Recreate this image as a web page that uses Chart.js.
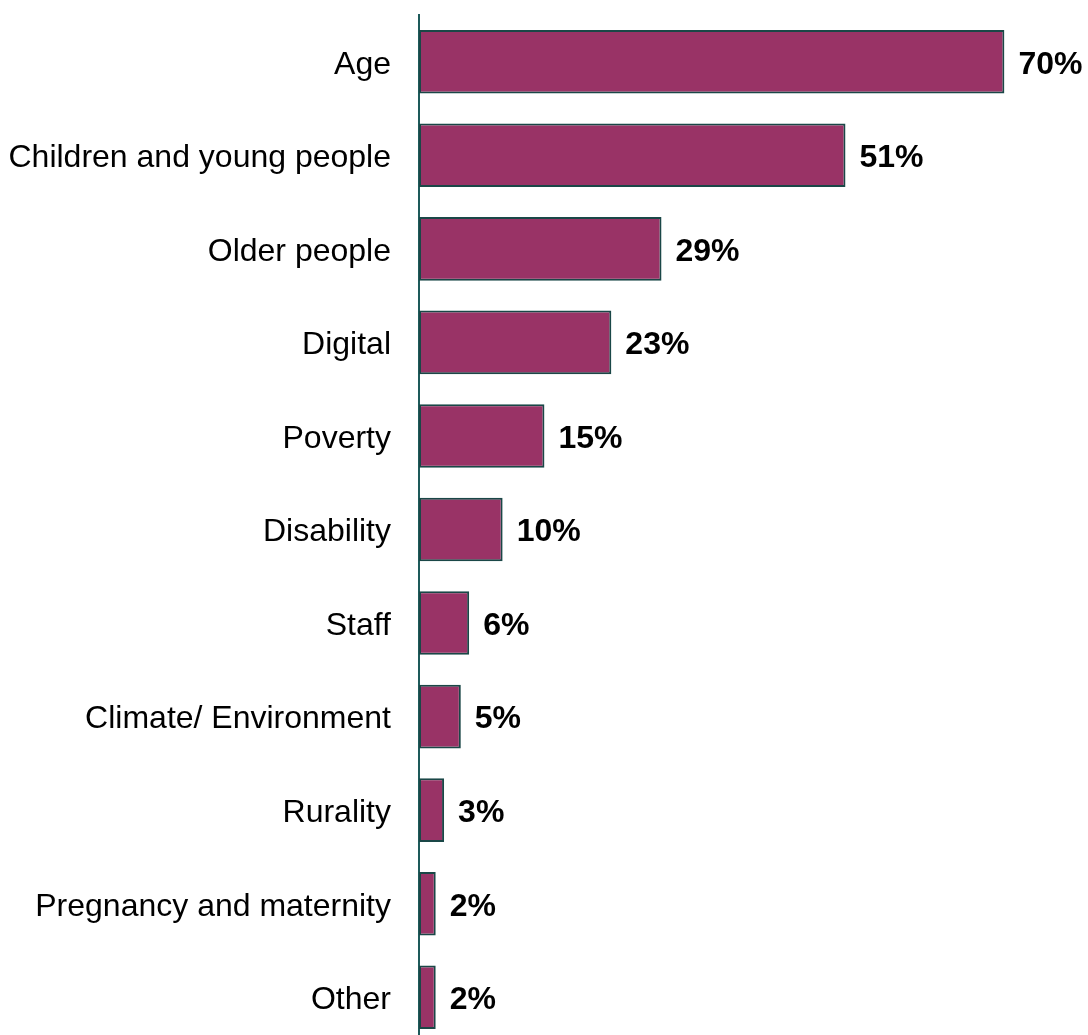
<!DOCTYPE html>
<html>
<head>
<meta charset="utf-8">
<script src="https://cdn.jsdelivr.net/npm/chart.js@4.4.1/dist/chart.umd.min.js"></script>
<style>
  html, body { margin: 0; padding: 0; background: #ffffff; overflow: hidden; }
  #wrap { width: 1088px; height: 1044px; }
</style>
</head>
<body>
<div id="wrap"><canvas id="chart"></canvas></div>
<script>
const categories = [
  'Age',
  'Children and young people',
  'Older people',
  'Digital',
  'Poverty',
  'Disability',
  'Staff',
  'Climate/ Environment',
  'Rurality',
  'Pregnancy and maternity',
  'Other',
];
const percentages = [70, 51, 29, 23, 15, 10, 6, 5, 3, 2, 2];

// simple value labels at the end of each bar
const barLabels = {
  id: 'barLabels',
  afterDatasetsDraw(chart) {
    const ctx = chart.ctx;
    const meta = chart.getDatasetMeta(0);
    ctx.save();
    ctx.font = 'bold 32px "Liberation Sans", Arial, sans-serif';
    ctx.fillStyle = '#000000';
    ctx.textAlign = 'left';
    ctx.textBaseline = 'middle';
    meta.data.forEach((bar, i) => {
      ctx.fillText(percentages[i] + '%', bar.x + 14, bar.y + 3);
    });
    ctx.restore();
  },
};

const ctx = document.getElementById('chart').getContext('2d');
new Chart(ctx, {
  type: 'bar',
  data: {
    labels: categories,
    datasets: [
      {
        data: percentages,
        backgroundColor: '#993366',
        borderColor: '#1a4747',
        borderWidth: 2,
        borderSkipped: false,
        categoryPercentage: 1,
        barPercentage: 0.68,
      },
    ],
  },
  options: {
    indexAxis: 'y',
    responsive: true,
    maintainAspectRatio: false,
    animation: false,
    layout: {
      padding: { top: 15, bottom: 0, left: 0, right: 0 },
    },
    plugins: {
      legend: { display: false },
      tooltip: { enabled: false },
    },
    scales: {
      x: {
        display: false,
        min: 0,
        max: 80,
      },
      y: {
        grid: { display: false, drawTicks: false },
        border: { display: true, color: '#1d5a5a', width: 2 },
        ticks: {
          color: '#000000',
          padding: 28,
          labelOffset: 3,
          font: { family: '"Liberation Sans", Arial, sans-serif', size: 32 },
        },
        afterFit(scale) {
          scale.width = 419;
          scale.paddingTop = 0;
          scale.paddingBottom = 0;
        },
      },
    },
  },
  plugins: [barLabels],
});
</script>
</body>
</html>
